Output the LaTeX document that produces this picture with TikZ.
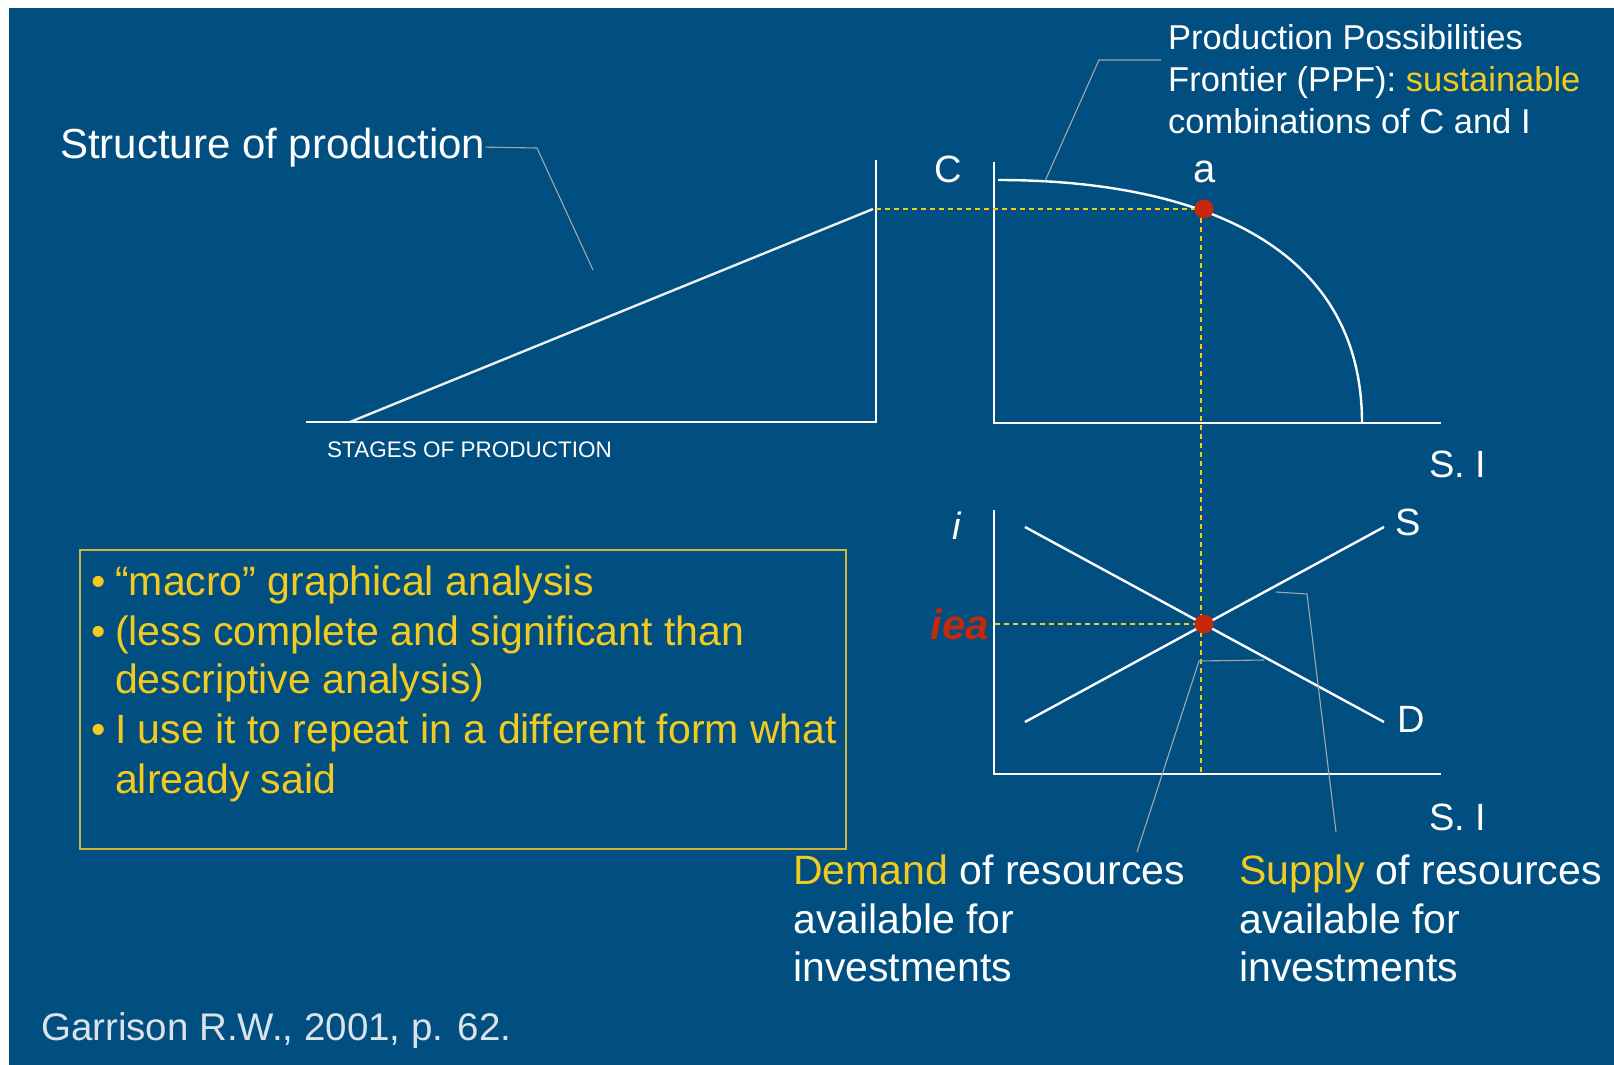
\documentclass[tikz,border=0pt]{standalone}
\usepackage{fontspec}
\setmainfont{Liberation Sans}
\definecolor{bgblue}{HTML}{014F80}
\definecolor{ylw}{HTML}{F3CB1F}
\definecolor{dotred}{HTML}{C6280C}
\definecolor{leadgray}{HTML}{A3A7AB}
\definecolor{boxline}{HTML}{CDB63A}
\definecolor{citegray}{HTML}{DCE2EA}
\begin{document}
\begin{tikzpicture}[x=1pt,y=-1pt,
  txt/.style={inner sep=0pt, text=white},
  axisline/.style={white, line width=2.6pt},
  curveline/.style={white, line width=2.4pt},
  guide/.style={ylw, line width=2.6pt, dash pattern=on 5pt off 4pt},
  leader/.style={leadgray, line width=1.1pt},
  reddot/.style={circle, fill=dotred, inner sep=0pt, minimum size=19pt},
  big/.style={font=\fontsize{38}{46}\selectfont},
  ppf/.style={font=\fontsize{34.5}{42}\selectfont},
  boxtxt/.style={inner sep=0pt, text=ylw, font=\fontsize{41}{49}\selectfont},
  bottxt/.style={inner sep=0pt, text=white, font=\fontsize{41}{49}\selectfont},
]
\useasboundingbox (0,0) rectangle (1614,1065);
\fill[white] (0,0) rectangle (1614,1065);
\fill[bgblue] (9,8) rectangle (1614,1065);

% ---------- structure of production ----------
\node[txt, anchor=base west, font=\fontsize{42}{50}\selectfont] (struct) at (60,158) {Structure of production};
\coordinate (sL2) at (537,148);
\coordinate (sL3) at (593,270);
\draw[leader] (struct.east) -- (sL2) -- (sL3);

\coordinate (stO) at (306,422);
\coordinate (stR) at (876,422);
\coordinate (stT) at (876,160);
\coordinate (slA) at (350,422);
\coordinate (slB) at (873,209);
\draw[axisline] (stO) -- (stR) -- (stT);
\draw[curveline, color=white!88!gray] (slA) -- (slB);
\node[txt, anchor=base west, font=\fontsize{22.5}{27}\selectfont] (stages) at (327,457) {STAGES OF PRODUCTION};

% ---------- PPF ----------
\coordinate (pT) at (994,162);
\coordinate (pO) at (994,423);
\coordinate (pR) at (1441,423);
\draw[axisline] (pT) -- (pO) -- (pR);
\coordinate (cS) at (998,180);
\coordinate (cE) at (1362,423);
\draw[curveline] (cS) .. controls (1180,180) and (1362,235) .. (cE);

\coordinate (A) at (1204,209);
\coordinate (hL) at (876,209);
\coordinate (vT) at (1201,218);
\coordinate (vB) at (1201,772);
\draw[guide] (hL) -- (A);
\draw[guide] (vT) -- (vB);

% lower graph
\coordinate (qT) at (994,510);
\coordinate (qO) at (994,774);
\coordinate (qR) at (1441,774);
\draw[axisline] (qT) -- (qO) -- (qR);
\coordinate (dA) at (1025,527);
\coordinate (dB) at (1384,722);
\coordinate (sA) at (1025,722);
\coordinate (sB) at (1384,527);
\coordinate (E) at (1204,624);
\coordinate (eL) at (995,624);
\draw[guide] (eL) -- (E);
\draw[curveline] (dA) -- (dB);
\draw[curveline] (sA) -- (sB);

\node[reddot] (pa) at (A) {};
\node[reddot] (pe) at (E) {};

% labels
\node[txt, big, anchor=base] (lC) at (948,182) {C};
\node[txt, font=\fontsize{40}{48}\selectfont, anchor=base] (la) at (1205,182) {a};
\node[txt, big, anchor=base] (lSI1) at (1458,477) {S. I};
\node[txt, big, anchor=base] (lSI2) at (1458,830) {S. I};
\node[txt, big, anchor=base] (lS) at (1408,535) {S};
\node[txt, big, anchor=base] (lD) at (1411,732) {D};
\node[txt, big, anchor=base] (li) at (957,539) {\itshape i};
\node[inner sep=0pt, text=dotred, font=\fontsize{42}{50}\selectfont\bfseries\itshape, anchor=base east] (liea) at (989,639) {iea};

% PPF text
\node[txt, ppf, anchor=base west] (pp1) at (1168,50) {Production Possibilities};
\node[txt, ppf, anchor=base west] (pp2) at (1168,92) {Frontier (PPF): \textcolor{ylw}{sustainable}};
\node[txt, ppf, anchor=base west] (pp3) at (1168,133) {combinations of C and I};
\coordinate (pL1) at (1045,181);
\coordinate (pL2) at (1099,60);
\coordinate (pL3) at (1161,60);
\draw[leader] (pL1) -- (pL2) -- (pL3);

% box
\draw[boxline, line width=1.5pt] (80,550) rectangle (846,849);
\node[boxtxt, anchor=base west] (bb1) at (91,595) {•};
\node[boxtxt, anchor=base west] (bt1) at (115,595) {“macro” graphical analysis};
\node[boxtxt, anchor=base west] (bb2) at (91,645) {•};
\node[boxtxt, anchor=base west] (bt2) at (115,645) {(less complete and significant than};
\node[boxtxt, anchor=base west] (bt3) at (115,693) {descriptive analysis)};
\node[boxtxt, anchor=base west] (bb4) at (91,743) {•};
\node[boxtxt, anchor=base west] (bt4) at (115,743) {I use it to repeat in a different form what};
\node[boxtxt, anchor=base west] (bt5) at (115,793) {already said};

% bottom labels
\node[bottxt, anchor=base west] (d1) at (793,884) {\textcolor{ylw}{Demand} of resources};
\node[bottxt, anchor=base west] (d2) at (793,933) {available for};
\node[bottxt, anchor=base west] (d3) at (793,981) {investments};
\node[bottxt, anchor=base west] (s1) at (1239,884) {\textcolor{ylw}{Supply} of resources};
\node[bottxt, anchor=base west] (s2) at (1239,933) {available for};
\node[bottxt, anchor=base west] (s3) at (1239,981) {investments};

\coordinate (dL1) at (1264,660);
\coordinate (dL2) at (1199,661);
\coordinate (dL3) at (1137,852);
\draw[leader] (dL1) -- (dL2) -- (dL3);
\coordinate (uL1) at (1276,592);
\coordinate (uL2) at (1307,594);
\coordinate (uL3) at (1336,832);
\draw[leader] (uL1) -- (uL2) -- (uL3);

\node[inner sep=0pt, text=citegray, font=\fontsize{38.5}{46}\selectfont, anchor=base west] (cite) at (41,1040) {Garrison R.W., 2001, p. 62.};
\end{tikzpicture}
\end{document}
